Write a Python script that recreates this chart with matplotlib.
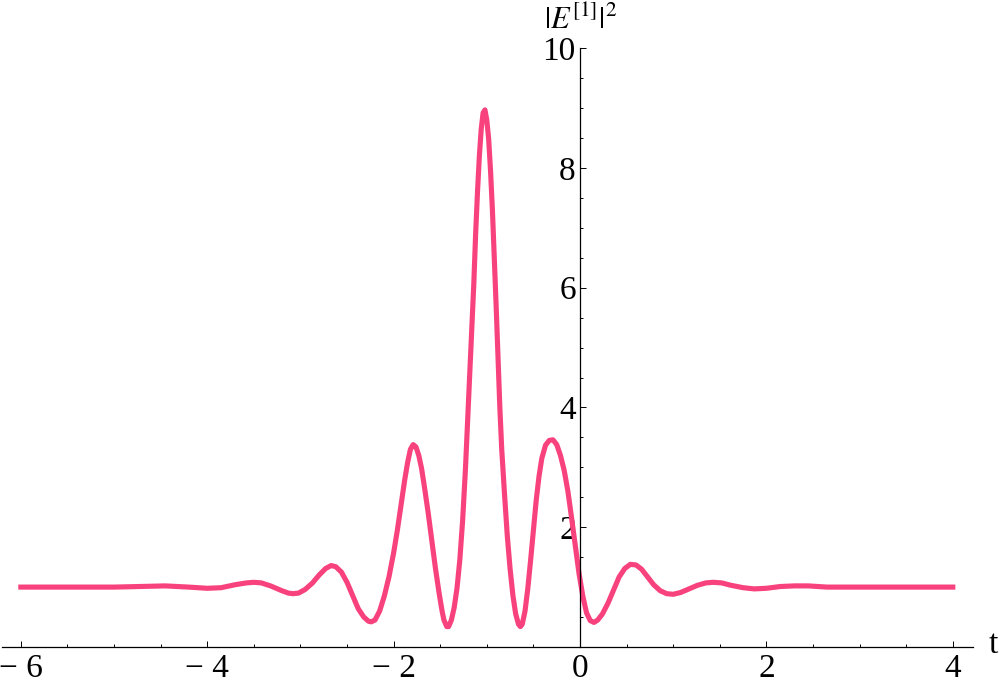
import matplotlib
matplotlib.use('Agg')
import matplotlib.pyplot as plt
from matplotlib.ticker import MultipleLocator, FixedLocator

plt.rcParams['font.family'] = ['Liberation Serif', 'DejaVu Serif']
plt.rcParams['mathtext.fontset'] = 'stix'
plt.rcParams['axes.unicode_minus'] = True

# values
t_vals = [-6.0, -5.5, -5.0, -4.7, -4.45, -4.2, -4.0, -3.85, -3.7, -3.58,
          -3.5, -3.42, -3.32, -3.2, -3.13, -3.08, -3.02, -2.95, -2.87, -2.8,
          -2.73, -2.67, -2.62, -2.56, -2.5, -2.44, -2.38, -2.32, -2.27, -2.24,
          -2.2, -2.15, -2.1, -2.05, -2.0, -1.96, -1.92, -1.88, -1.85, -1.82,
          -1.79, -1.76, -1.73, -1.7, -1.67, -1.63, -1.59, -1.55, -1.51, -1.48,
          -1.46, -1.43, -1.41, -1.38, -1.35, -1.32, -1.29, -1.26, -1.23, -1.2,
          -1.17, -1.14, -1.12, -1.1, -1.08, -1.06, -1.04, -1.02, -1.0, -0.98,
          -0.96, -0.94, -0.92, -0.9, -0.88, -0.86, -0.84, -0.81, -0.78, -0.75,
          -0.72, -0.69, -0.66, -0.64, -0.62, -0.59, -0.56, -0.53, -0.5, -0.47,
          -0.44, -0.41, -0.37, -0.33, -0.29, -0.25, -0.21, -0.17, -0.13, -0.09,
          -0.05, -0.01, 0.03, 0.07, 0.11, 0.15, 0.19, 0.24, 0.3, 0.36,
          0.42, 0.48, 0.54, 0.6, 0.66, 0.72, 0.79, 0.86, 0.93, 1.0,
          1.08, 1.17, 1.26, 1.35, 1.43, 1.52, 1.62, 1.75, 1.87, 2.0,
          2.15, 2.3, 2.45, 2.65, 3.0, 3.5, 4.0]
e_vals = [1.0, 1.0, 1.0, 1.01, 1.02, 1.0, 0.98, 0.99, 1.04, 1.07,
          1.08, 1.07, 1.02, 0.94, 0.9, 0.89, 0.9, 0.96, 1.07, 1.2,
          1.31, 1.36, 1.34, 1.25, 1.08, 0.86, 0.64, 0.5, 0.43, 0.42,
          0.45, 0.6, 0.85, 1.17, 1.57, 1.95, 2.38, 2.8, 3.08, 3.3,
          3.38, 3.34, 3.2, 2.98, 2.68, 2.25, 1.78, 1.3, 0.88, 0.6,
          0.45, 0.34, 0.34, 0.45, 0.66, 0.98, 1.45, 2.1, 2.95, 3.99,
          5.0, 6.05, 6.9, 7.6, 8.2, 8.65, 8.92, 8.97, 8.8, 8.48,
          7.95, 7.3, 6.5, 5.7, 4.85, 3.99, 3.3, 2.55, 1.85, 1.3,
          0.86, 0.55, 0.38, 0.34, 0.38, 0.6, 0.98, 1.45, 1.95, 2.45,
          2.85, 3.15, 3.37, 3.45, 3.46, 3.38, 3.2, 2.95, 2.6, 2.15,
          1.68, 1.22, 0.85, 0.57, 0.44, 0.41, 0.45, 0.55, 0.73, 0.95,
          1.17, 1.31, 1.38, 1.37, 1.3, 1.18, 1.04, 0.94, 0.89, 0.88,
          0.91, 0.97, 1.03, 1.07, 1.08, 1.07, 1.03, 0.99, 0.97, 0.98,
          1.01, 1.02, 1.02, 1.0, 1.0, 1.0, 1.0]

x_ticks = [-6, -4, -2, 0, 2, 4]
x_labels = ['\u2212 6', '\u2212 4', '\u2212 2', '0', '2', '4']
y_ticks = [2, 4, 6, 8, 10]

fig = plt.figure(figsize=(10, 6.89), dpi=100)
ax = fig.add_axes([0.0022, 0.061, 0.9711, 0.869])

ax.plot(t_vals, e_vals, color='#F8427E', lw=3.7, solid_joinstyle='round')

ax.set_xlim(-6.2, 4.22)
ax.set_ylim(0, 10)

for s in ['top', 'right']:
    ax.spines[s].set_visible(False)
ax.spines['left'].set_position(('data', 0))
ax.spines['left'].set_linewidth(0.9)
ax.spines['bottom'].set_linewidth(0.9)

ax.xaxis.set_major_locator(FixedLocator(x_ticks))
ax.set_xticklabels(x_labels)
ax.xaxis.set_minor_locator(MultipleLocator(0.5))
ax.yaxis.set_major_locator(FixedLocator(y_ticks))
ax.yaxis.set_minor_locator(MultipleLocator(0.5))

ax.tick_params(which='both', direction='in', width=0.7, labelsize=24)
ax.tick_params(which='major', length=4)
ax.tick_params(which='minor', length=2)
ax.tick_params(axis='x', pad=5)
ax.tick_params(axis='y', pad=3)

fig.text(0.993, 1 - 645 / 689, 't', fontsize=24, ha='center', va='center')
fig.text(0.581, 1 - 21 / 689, r'$|E^{[1]}|^2$', fontsize=22, ha='center', va='center')

fig.savefig('out.png', dpi=100)
